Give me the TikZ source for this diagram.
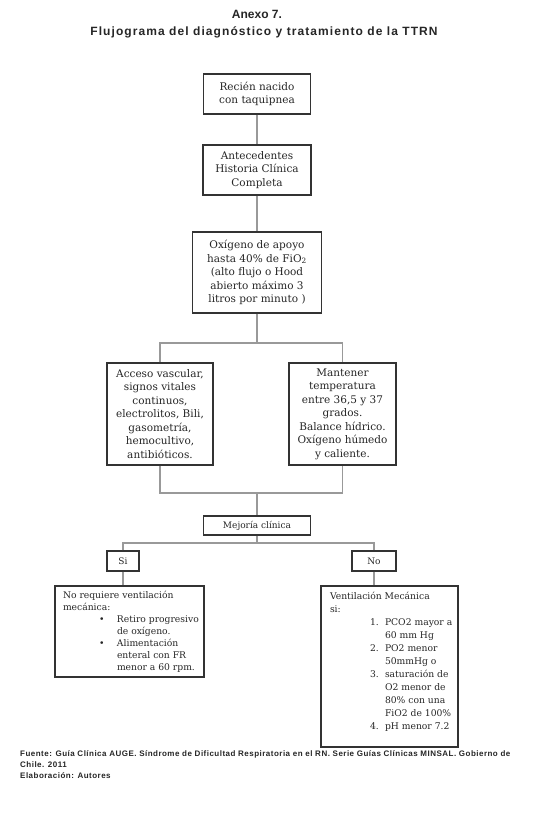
\documentclass[tikz,border=0pt]{standalone}
\usepackage{fontspec}
\setmainfont{DejaVu Serif}
\newfontfamily\titlefont{Liberation Sans}
\newfontfamily\titlewide{Liberation Sans}[LetterSpace=9]
\newfontfamily\footfont{Liberation Sans}[LetterSpace=6]
\begin{document}
\begin{tikzpicture}[x=1pt,y=-1pt,
  box/.style={draw=black!80, line width=1.4pt, fill=white, text=black!85, align=center, inner sep=0pt, font=\fontsize{10.5}{13.5}\selectfont},
  smallbox/.style={box, font=\fontsize{9}{12}\selectfont},
  conn/.style={draw=black!40, line width=1.4pt},
  ttl/.style={text=black!85, inner sep=0pt}]
\useasboundingbox (0,0) rectangle (550,826);
\fill[white] (0,0) rectangle (550,826);

\node[ttl, font=\titlefont\bfseries\fontsize{12}{14}\selectfont] (t1) at (257,14) {Anexo 7.};
\node[ttl, font=\titlewide\bfseries\fontsize{12}{14}\selectfont] (t2) at (264,32) {Flujograma del diagnóstico y tratamiento de la TTRN};

\node[box, minimum width=107pt, minimum height=40pt] (b1) at (257,94) {Recién nacido\\con taquipnea};
\node[box, minimum width=108pt, minimum height=50pt] (b2) at (257,170) {Antecedentes\\Historia Clínica\\Completa};
\node[box, minimum width=129pt, minimum height=81pt] (b3) at (257,272.5) {Oxígeno de apoyo\\hasta 40\% de FiO\textsubscript{2}\\(alto flujo o Hood\\abierto máximo 3\\litros por minuto )};
\node[box, minimum width=106pt, minimum height=102pt] (b4) at (160,414) {Acceso vascular,\\signos vitales\\continuos,\\electrolitos, Bili,\\gasometría,\\hemocultivo,\\antibióticos.};
\node[box, minimum width=107pt, minimum height=102pt] (b5) at (342.5,414) {Mantener\\temperatura\\entre 36,5 y 37\\grados.\\Balance hídrico.\\Oxígeno húmedo\\y caliente.};
\node[smallbox, minimum width=107pt, minimum height=19pt] (mej) at (257,525.5) {Mejoría clínica};
\node[smallbox, minimum width=32pt, minimum height=20pt] (si) at (123,561) {Si};
\node[smallbox, minimum width=44pt, minimum height=20pt] (no) at (374,561) {No};

\node[box, inner xsep=8pt, inner ysep=5pt, font=\fontsize{9.2}{12}\selectfont] (b6) at (129.5,631.5)
 {\parbox[c][81pt][t]{133pt}{\raggedright
 \mbox{No requiere ventilación}\\
 mecánica:\\
 \hspace*{36pt}\makebox[18pt][l]{•}\mbox{Retiro progresivo}\\
 \hspace*{54pt}de oxígeno.\\
 \hspace*{36pt}\makebox[18pt][l]{•}Alimentación\\
 \hspace*{54pt}\mbox{enteral con FR}\\
 \hspace*{54pt}\mbox{menor a 60 rpm.}}};

\node[box, inner xsep=9pt, inner ysep=6pt, font=\fontsize{9.2}{13}\selectfont] (b7) at (389.5,666.5)
 {\parbox[c][149pt][t]{119pt}{\raggedright
 \mbox{Ventilación Mecánica}\\
 si:\\
 \hspace*{40pt}\makebox[15pt][l]{1.}\mbox{PCO2 mayor a}\\
 \hspace*{55pt}\mbox{60 mm Hg}\\
 \hspace*{40pt}\makebox[15pt][l]{2.}\mbox{PO2 menor}\\
 \hspace*{55pt}\mbox{50mmHg o}\\
 \hspace*{40pt}\makebox[15pt][l]{3.}\mbox{saturación de}\\
 \hspace*{55pt}\mbox{O2 menor de}\\
 \hspace*{55pt}\mbox{80\% con una}\\
 \hspace*{55pt}\mbox{FiO2 de 100\%}\\
 \hspace*{40pt}\makebox[15pt][l]{4.}\mbox{pH menor 7.2}}};

\node[anchor=north west, align=left, inner sep=0pt, text=black!85,
  font=\footfont\bfseries\fontsize{8}{11}\selectfont] (foot) at (20,750)
 {Fuente: Guía Clínica AUGE. Síndrome de Dificultad Respiratoria en el RN. Serie Guías Clínicas MINSAL. Gobierno de\\Chile. 2011\\Elaboración: Autores};

\coordinate (j1) at (257,343);
\coordinate (j2) at (257,493);
\coordinate (j3) at (257,543);

\draw[conn] (b1) -- (b2);
\draw[conn] (b2) -- (b3);
\draw[conn] (b3) -- (j1);
\draw[conn] (b4.north) |- (j1) -| (b5.north);
\draw[conn] (b4.south) |- (j2) -| (b5.south);
\draw[conn] (j2) -- (mej);
\draw[conn] (mej) -- (j3);
\draw[conn] (si.north) |- (j3) -| (no.north);
\draw[conn] (si.south) -- (si.south |- b6.north);
\draw[conn] (no.south) -- (no.south |- b7.north);
\end{tikzpicture}
\end{document}
